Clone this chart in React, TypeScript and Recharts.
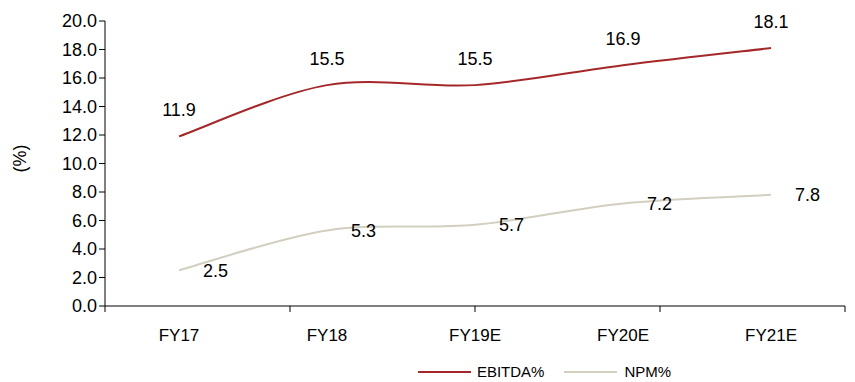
import React from 'react';
import { LineChart, Line, XAxis, YAxis, LabelList, Legend } from 'recharts';

const years = ['FY17', 'FY18', 'FY19E', 'FY20E', 'FY21E'];
const ebitdaMargin = [11.9, 15.5, 15.5, 16.9, 18.1];
const netMargin = [2.5, 5.3, 5.7, 7.2, 7.8];
const yTicks = [0, 2, 4, 6, 8, 10, 12, 14, 16, 18, 20];
const bandEdges = [0, 1, 2, 3, 4, 5];

const data = years.map((year, i) => ({ year, ebitda: ebitdaMargin[i], npm: netMargin[i] }));

const FONT = '"Liberation Sans", Arial, sans-serif';
const RED = '#A4282A';
const BEIGE = '#D2CFC0';

// Excel-style smoothed line (Catmull-Rom through the points)
const smoothCurve = (context: any) => {
  let pts: number[][] = [];
  return {
    areaStart() {},
    areaEnd() {},
    lineStart() { pts = []; },
    point(x: number, y: number) { pts.push([+x, +y]); },
    lineEnd() {
      if (!pts.length) return;
      context.moveTo(pts[0][0], pts[0][1]);
      for (let i = 0; i < pts.length - 1; i++) {
        const p0 = pts[i - 1] || pts[i];
        const p1 = pts[i];
        const p2 = pts[i + 1];
        const p3 = pts[i + 2] || p2;
        context.bezierCurveTo(
          p1[0] + (p2[0] - p0[0]) / 6, p1[1] + (p2[1] - p0[1]) / 6,
          p2[0] - (p3[0] - p1[0]) / 6, p2[1] - (p3[1] - p1[1]) / 6,
          p2[0], p2[1]
        );
      }
    },
  };
};

const renderLegend = () => (
  <div style={{ display: 'flex', justifyContent: 'center', fontFamily: FONT, fontSize: 15, color: '#000', paddingTop: 6, paddingLeft: 244 }}>
    <span style={{ display: 'flex', alignItems: 'center', marginRight: 20 }}>
      <svg width={53} height={4} style={{ marginRight: 6 }}><line x1={0} y1={2} x2={53} y2={2} stroke={RED} strokeWidth={2} /></svg>
      EBITDA%
    </span>
    <span style={{ display: 'flex', alignItems: 'center' }}>
      <svg width={53} height={4} style={{ marginRight: 7 }}><line x1={0} y1={2} x2={53} y2={2} stroke={BEIGE} strokeWidth={2} /></svg>
      NPM%
    </span>
  </div>
);

export default function App() {
  return (
    <div style={{ position: 'absolute', left: 0, top: 0, background: '#fff' }}>
      <LineChart width={855} height={382} data={data} margin={{ top: 21, right: 10, left: 0, bottom: 0 }}>
        <XAxis
          xAxisId="a-edges"
          type="number"
          domain={[0, 5]}
          allowDataOverflow
          ticks={bandEdges}
          interval={0}
          tickFormatter={() => ''}
          axisLine={{ stroke: '#000' }}
          tickLine={{ stroke: '#000' }}
          tickSize={6}
          height={1}
        />
        <XAxis
          xAxisId="b-cat"
          dataKey="year"
          axisLine={false}
          tickLine={false}
          padding={{ left: 74, right: 74 }}
          tick={{ fill: '#000', fontSize: 17, fontFamily: FONT }}
          tickMargin={16}
          height={50}
        />
        <YAxis
          domain={[0, 20]}
          ticks={yTicks}
          interval={0}
          tickFormatter={(v: number) => v.toFixed(1)}
          axisLine={{ stroke: '#000' }}
          tickLine={{ stroke: '#000' }}
          tickSize={6}
          tick={{ fill: '#000', fontSize: 18, fontFamily: FONT }}
          width={105}
          label={{ value: '(%)', angle: -90, position: 'insideLeft', offset: 12, fill: '#000', fontSize: 18, fontFamily: FONT, dy: 9, dx: 8 }}
        />
        <Legend verticalAlign="bottom" height={25} content={renderLegend} />
        <Line xAxisId="b-cat" type={smoothCurve as any} dataKey="ebitda" name="EBITDA%" stroke={RED} strokeWidth={2} dot={false} isAnimationActive={false}>
          <LabelList dataKey="ebitda" position="top" offset={20} fill="#000" fontSize={18} fontFamily={FONT} formatter={(v: number) => v.toFixed(1)} />
        </Line>
        <Line xAxisId="b-cat" type={smoothCurve as any} dataKey="npm" name="NPM%" stroke={BEIGE} strokeWidth={2} dot={false} isAnimationActive={false}>
          <LabelList dataKey="npm" position="right" offset={24} fill="#000" fontSize={18} fontFamily={FONT} formatter={(v: number) => v.toFixed(1)} />
        </Line>
      </LineChart>
    </div>
  );
}
